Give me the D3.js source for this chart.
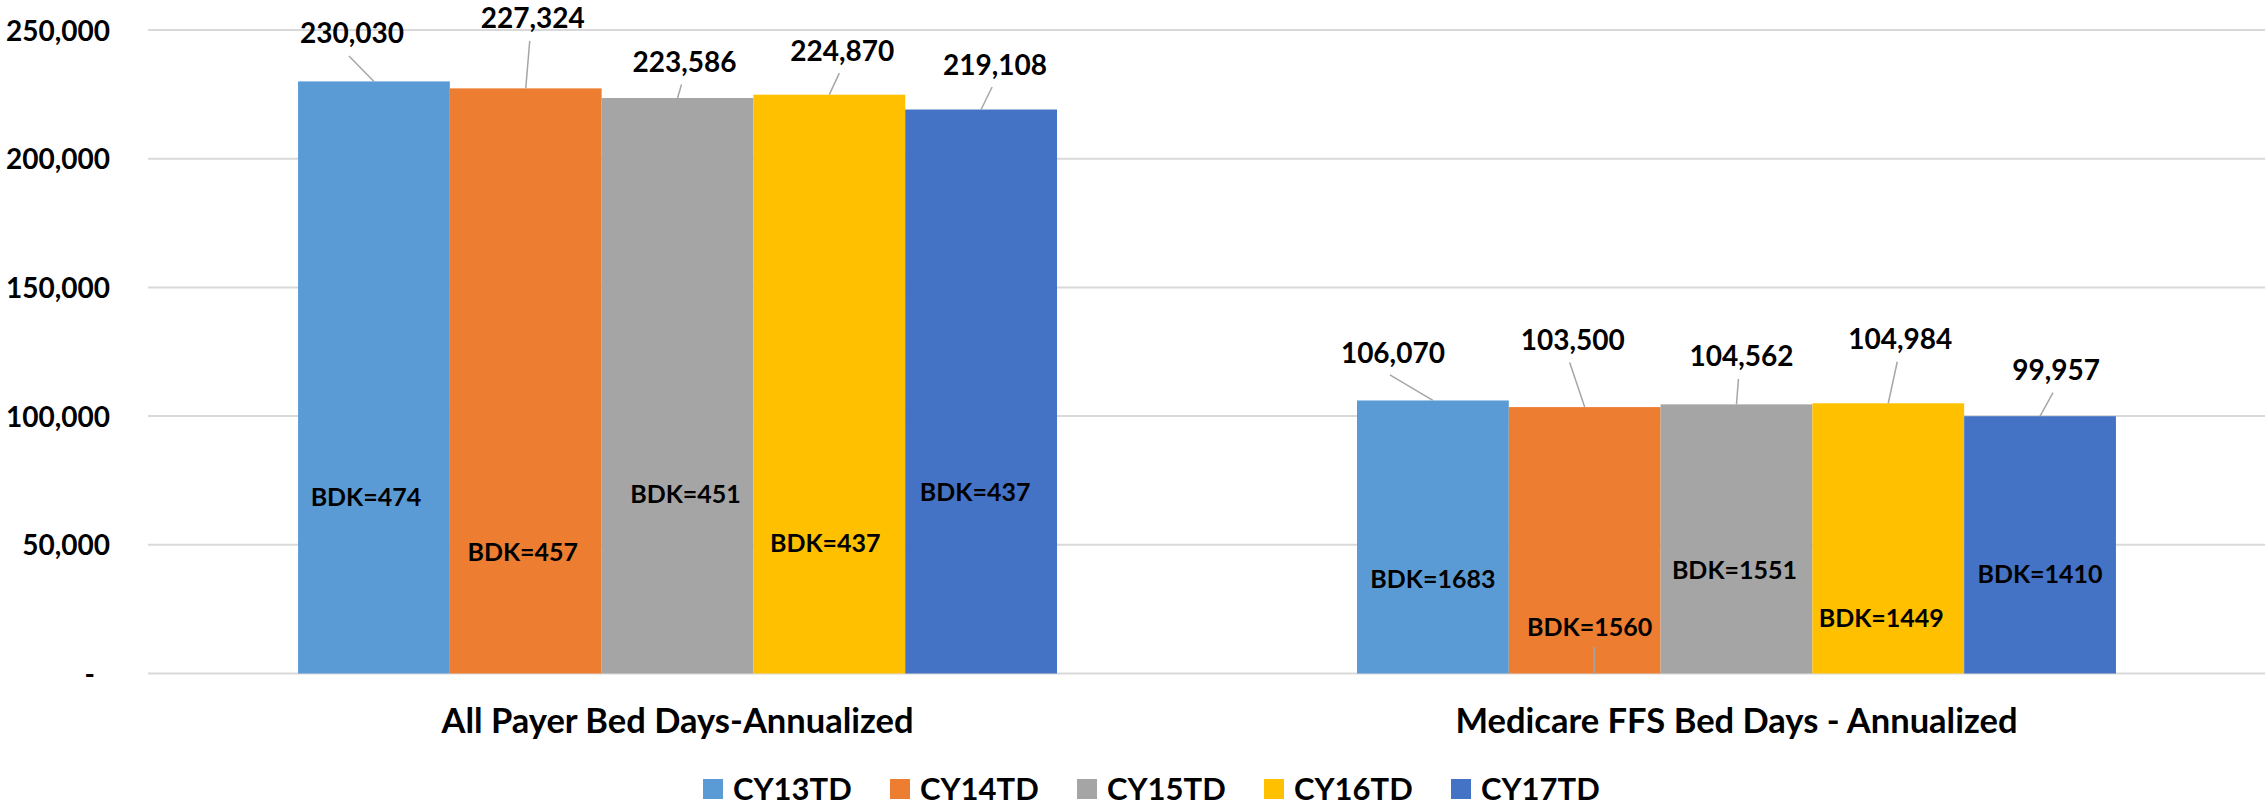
<!DOCTYPE html>
<html>
<head>
<meta charset="utf-8">
<script src="https://cdn.jsdelivr.net/npm/d3@7"></script>
<style>
  html, body { margin: 0; padding: 0; background: #fff; }
  svg text { font-family: Lato, "Open Sans", sans-serif; font-weight: 700; fill: #000; }
</style>
</head>
<body>
<svg id="chart" width="2265" height="807"></svg>
<script>
// ---- data ----
const categories = ["All Payer Bed Days-Annualized", "Medicare FFS Bed Days - Annualized"];
const seriesNames = ["CY13TD", "CY14TD", "CY15TD", "CY16TD", "CY17TD"];
const allPayerDays = [230030, 227324, 223586, 224870, 219108];
const medicareDays = [106070, 103500, 104562, 104984, 99957];
const allPayerBdk = [474, 457, 451, 437, 437];
const medicareBdk = [1683, 1560, 1551, 1449, 1410];
const yTicks = [0, 50000, 100000, 150000, 200000, 250000];

// ---- styling & hand-placed label layout ----
const seriesColors = ["#5B9BD5", "#ED7D31", "#A5A5A5", "#FFC000", "#4472C4"];
// value labels: [dx from bar centre, dy from bar top] in px
const valueLabelOffsets = [
  [[-22, -48], [7, -70], [7, -36], [13, -44], [14, -45]],
  [[-40, -48], [-12, -67], [5, -48], [12, -64], [16, -46]]
];
// BDK labels: [dx from bar centre, dy from baseline] in px
const bdkLabelOffsets = [
  [[-8, -176.5], [-3, -121.5], [8, -179.5], [-4, -130.5], [-6, -181.5]],
  [[0, -94.5], [5, -46.5], [-2, -103.5], [-7, -56], [0, -100]]
];
const bdkLeader = [[false, false, false, false, false], [false, true, false, false, false]];

const W = 2265, H = 807;
const plotLeft = 148, plotRight = 2266, plotTop = 30, plotBottom = 673.5;

const svg = d3.select("#chart");

const valuesByCat = [allPayerDays, medicareDays];
const bdkByCat = [allPayerBdk, medicareBdk];

const rows = [];
categories.forEach((cat, ci) => {
  seriesNames.forEach((s, si) => {
    rows.push({
      cat, ci, s, si,
      value: valuesByCat[ci][si],
      bdk: bdkByCat[ci][si],
      vOff: valueLabelOffsets[ci][si],
      bOff: bdkLabelOffsets[ci][si],
      leader: bdkLeader[ci][si]
    });
  });
});

// ---- scales ----
const y = d3.scaleLinear().domain([0, 250000]).range([plotBottom, plotTop]);
const x0 = d3.scaleBand().domain(categories).range([plotLeft, plotRight])
  .paddingInner(0.2833).paddingOuter(0.1417);
const x1 = d3.scaleBand().domain(seriesNames).range([0, x0.bandwidth()]);
const color = d3.scaleOrdinal().domain(seriesNames).range(seriesColors);

// ---- gridlines ----
svg.append("g").selectAll("line").data(yTicks).join("line")
  .attr("x1", plotLeft).attr("x2", W)
  .attr("y1", d => y(d)).attr("y2", d => y(d))
  .attr("stroke", "#d9d9d9").attr("stroke-width", 2);

// ---- y axis ----
const fmt = d3.format(",");
const yAxis = svg.append("g")
  .attr("transform", `translate(${plotLeft},0)`)
  .call(d3.axisLeft(y).tickValues(yTicks).tickSize(0).tickPadding(38)
    .tickFormat(d => d === 0 ? "-" : fmt(d)));
yAxis.select(".domain").remove();
yAxis.selectAll("text")
  .attr("font-size", 28).attr("dy", "0.36em")
  .attr("fill", "#000")
  .style("font-family", "Lato, 'Open Sans', sans-serif")
  .attr("x", d => d === 0 ? -53 : -38);

// ---- bars ----
const barX = d => x0(d.cat) + x1(d.s);
const barCx = d => barX(d) + x1.bandwidth() / 2;

svg.append("g").selectAll("rect").data(rows).join("rect")
  .attr("x", barX)
  .attr("y", d => y(d.value))
  .attr("width", x1.bandwidth())
  .attr("height", d => y(0) - y(d.value))
  .attr("fill", d => color(d.s));

// ---- value labels with leader lines ----
svg.append("g").selectAll("line").data(rows).join("line")
  .attr("x1", d => barCx(d) + d.vOff[0] - 3)
  .attr("y1", d => y(d.value) + d.vOff[1] + 22.5)
  .attr("x2", d => barCx(d))
  .attr("y2", d => y(d.value))
  .attr("stroke", "#a6a6a6").attr("stroke-width", 1.5);

svg.append("g").selectAll("text").data(rows).join("text")
  .attr("x", d => barCx(d) + d.vOff[0])
  .attr("y", d => y(d.value) + d.vOff[1])
  .attr("dy", "0.36em")
  .attr("text-anchor", "middle")
  .attr("font-size", 28)
  .text(d => fmt(d.value));

// ---- BDK labels ----
svg.append("g").selectAll("line").data(rows.filter(d => d.leader)).join("line")
  .attr("x1", d => barCx(d) + d.bOff[0] + 4.5)
  .attr("y1", d => y(0) + d.bOff[1] + 20)
  .attr("x2", d => barCx(d) + d.bOff[0] + 4.5)
  .attr("y2", y(0))
  .attr("stroke", "#a6a6a6").attr("stroke-width", 1.5);

svg.append("g").selectAll("text").data(rows).join("text")
  .attr("x", d => barCx(d) + d.bOff[0])
  .attr("y", d => y(0) + d.bOff[1])
  .attr("dy", "0.36em")
  .attr("text-anchor", "middle")
  .attr("font-size", 25)
  .text(d => "BDK=" + d.bdk);

// ---- category labels ----
svg.append("g").selectAll("text").data(categories).join("text")
  .attr("x", d => x0(d) + x0.bandwidth() / 2)
  .attr("y", 732.7)
  .attr("text-anchor", "middle")
  .attr("font-size", 34.5)
  .text(d => d);

// ---- legend ----
const legendStep = 187;
const legend = svg.append("g").attr("transform", "translate(703,779)");
const li = legend.selectAll("g").data(seriesNames).join("g")
  .attr("transform", (d, i) => `translate(${i * legendStep},0)`);
li.append("rect").attr("width", 20).attr("height", 20).attr("fill", d => color(d));
li.append("text").attr("x", 30).attr("y", 21).attr("font-size", 31).text(d => d);
</script>
</body>
</html>
